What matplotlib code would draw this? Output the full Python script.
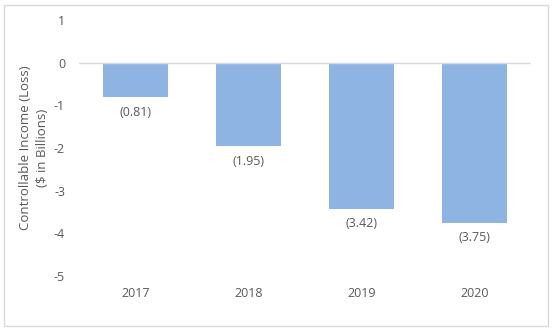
import matplotlib
matplotlib.use("Agg")
import matplotlib.pyplot as plt
from matplotlib.patches import FancyBboxPatch

years = ["2017", "2018", "2019", "2020"]
values = [-0.81, -1.95, -3.42, -3.75]
labels = ["(0.81)", "(1.95)", "(3.42)", "(3.75)"]
yticks = [1, 0, -1, -2, -3, -4, -5]

plt.rcParams['font.family'] = ['Open Sans', 'DejaVu Sans']
txt = '#595959'

fig = plt.figure(figsize=(5.53, 3.31), dpi=100)
fig.patches.append(FancyBboxPatch((4/553, 5/331), 544/553, 321/331, boxstyle="square,pad=0",
                                  transform=fig.transFigure, fill=False, edgecolor='#d9d9d9', lw=1))
ax = fig.add_axes([79/553, 1 - 276/331, 452/553, 256/331])
x = list(range(len(years)))
ax.bar(x, values, width=0.575, color='#8EB4E3')
ax.set_xlim(-0.5, 3.5)
ax.set_ylim(-5, 1)
ax.axhline(0, color='#d9d9d9', lw=1)
for s in ax.spines.values():
    s.set_visible(False)
ax.set_yticks(yticks)
ax.set_yticklabels([str(t) for t in yticks], color=txt, fontsize=9)
ax.set_xticks(x)
ax.set_xticklabels(years, color=txt, fontsize=9)
ax.tick_params(length=0)
ax.tick_params(axis='y', pad=10)
ax.tick_params(axis='x', pad=8)
for xi, v, l in zip(x, values, labels):
    ax.annotate(l, (xi, v), xytext=(0, -11), textcoords='offset points', ha='center', va='center',
                color=txt, fontsize=9)
fig.text(34/553, 1 - 148/331, "Controllable Income (Loss)\n($ in Billions)", rotation=90,
         ha='center', va='center', multialignment='center', color=txt, fontsize=9.5, linespacing=1.3)
fig.savefig("out.png", dpi=100)
